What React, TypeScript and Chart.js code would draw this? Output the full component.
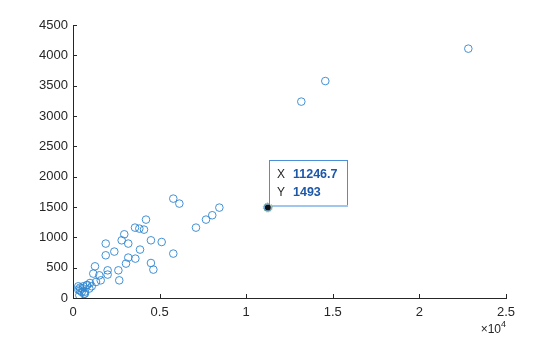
import React, { useEffect, useRef } from "react";
import { Chart, registerables } from "chart.js";

Chart.register(...registerables);

const xValues: number[] = [
  22824, 14567, 13181, 11246.7,
  5790, 6140, 8450, 8040, 7680, 7100, 4215, 3580, 3830, 4100, 2960, 2810, 3190, 4500, 5120,
  1890, 2385, 1890, 3870, 5790, 3190, 3600, 3060, 4500, 4640, 1270, 2000, 2000, 2620, 1520,
  1170, 2670, 1600, 1330,
  980, 790, 595, 405, 305, 500, 690, 365, 940, 1080, 826, 560, 404, 693, 635, 306,
];
const yValues: number[] = [
  4110, 3576, 3237, 1493,
  1638, 1556, 1490, 1364, 1292, 1160, 1292, 1160, 1144, 1127, 1050, 951, 897, 951, 923,
  897, 765, 704, 798, 732, 666, 649, 567, 577, 468, 522, 456, 386, 456, 374,
  402, 291, 291, 264,
  247, 209, 193, 171, 138, 99, 72, 44, 155, 193, 214, 160, 122, 105, 66, 193,
];
const yTicks: number[] = [0, 500, 1000, 1500, 2000, 2500, 3000, 3500, 4000, 4500];
const xTicks: number[] = [0, 5000, 10000, 15000, 20000, 25000];
const tipX = 11246.7;
const tipY = 1493;
const tipXLabel = "11246.7";
const tipYLabel = "1493";
const exponentText = "×10";
const exponentSup = "4";

const INK = "#262626";
const FONT = "'Liberation Sans', Arial, Helvetica, sans-serif";

export default function App() {
  const ref = useRef<HTMLCanvasElement | null>(null);

  useEffect(() => {
    document.body.style.margin = "0";
    const canvas = ref.current;
    if (!canvas) return;

    const overlay = {
      id: "matlabOverlay",
      afterDraw(chart: any) {
        const ctx = chart.ctx as CanvasRenderingContext2D;
        const xs = chart.scales.x;
        const ys = chart.scales.y;
        const area = chart.chartArea;
        ctx.save();
        ctx.strokeStyle = INK;
        ctx.lineWidth = 1;
        // inward ticks
        ctx.beginPath();
        yTicks.forEach((v) => {
          const py = Math.round(ys.getPixelForValue(v)) + 0.5;
          ctx.moveTo(area.left, py);
          ctx.lineTo(area.left + 4, py);
        });
        xTicks.forEach((v) => {
          const px = Math.round(xs.getPixelForValue(v)) + 0.5;
          ctx.moveTo(px, area.bottom);
          ctx.lineTo(px, area.bottom - 4);
        });
        ctx.stroke();

        // exponent label
        ctx.fillStyle = INK;
        ctx.textBaseline = "alphabetic";
        ctx.font = `9px ${FONT}`;
        const supW = ctx.measureText(exponentSup).width;
        ctx.font = `12px ${FONT}`;
        const baseW = ctx.measureText(exponentText).width;
        const rightX = area.right;
        ctx.textAlign = "left";
        ctx.fillText(exponentText, rightX - supW - baseW, 333);
        ctx.font = `9px ${FONT}`;
        ctx.fillText(exponentSup, rightX - supW, 327);

        // datatip
        const px = xs.getPixelForValue(tipX);
        const py = ys.getPixelForValue(tipY);
        const bl = Math.round(px) + 1.5;
        const bb = Math.round(py) - 1;
        const bw = 78;
        const bh = 46;
        ctx.fillStyle = "#ffffff";
        ctx.fillRect(bl, bb - bh, bw, bh);
        ctx.strokeStyle = "#4b8fd6";
        ctx.lineWidth = 1;
        ctx.strokeRect(bl, bb - bh + 0.5, bw, bh - 1);
        ctx.strokeStyle = "#9fc7ee";
        ctx.lineWidth = 2;
        ctx.beginPath();
        ctx.moveTo(bl, bb);
        ctx.lineTo(bl + bw + 0.5, bb);
        ctx.stroke();

        ctx.textAlign = "left";
        ctx.fillStyle = INK;
        ctx.font = `12px ${FONT}`;
        ctx.fillText("X", bl + 7.5, bb - 28);
        ctx.fillText("Y", bl + 7.5, bb - 10);
        ctx.fillStyle = "#1c57a8";
        ctx.font = `bold 12.5px ${FONT}`;
        ctx.fillText(tipXLabel, bl + 23.5, bb - 28);
        ctx.fillText(tipYLabel, bl + 23.5, bb - 10);

        // marker
        ctx.setLineDash([1, 1]);
        ctx.strokeStyle = "rgba(110,170,110,0.9)";
        ctx.lineWidth = 1;
        ctx.beginPath();
        ctx.arc(px, py, 4.5, 0, Math.PI * 2);
        ctx.stroke();
        ctx.setLineDash([]);
        ctx.fillStyle = "#111111";
        ctx.beginPath();
        ctx.arc(px, py, 3, 0, Math.PI * 2);
        ctx.fill();
        ctx.restore();
      },
    };

    const data = xValues.map((x, i) => ({ x, y: yValues[i] }));

    const chart = new Chart(canvas, {
      type: "scatter",
      data: {
        datasets: [
          {
            data,
            pointStyle: "circle",
            pointRadius: 3.8,
            pointHoverRadius: 3.8,
            borderColor: "#2f86cf",
            backgroundColor: "rgba(0,0,0,0)",
            borderWidth: 0.9,
          },
        ],
      },
      options: {
        responsive: false,
        animation: false,
        events: [],
        layout: { padding: { left: 0, top: 25, right: 54, bottom: 0 } },
        plugins: {
          legend: { display: false },
          tooltip: { enabled: false },
        },
        scales: {
          x: {
            type: "linear",
            min: 0,
            max: 25000,
            afterFit: (s: any) => { s.height = 39; },
            afterBuildTicks: (s: any) => { s.ticks = xTicks.map((v) => ({ value: v })); },
            grid: { display: false, drawTicks: false },
            border: { display: true, color: INK, width: 1 },
            ticks: {
              padding: 7,
              color: INK,
              font: { family: FONT, size: 13 },
              maxRotation: 0,
              callback: (v: any) => String(Number(v) / 10000),
            },
          },
          y: {
            type: "linear",
            min: 0,
            max: 4500,
            afterFit: (s: any) => { s.width = 73; },
            afterBuildTicks: (s: any) => { s.ticks = yTicks.map((v) => ({ value: v })); },
            grid: { display: false, drawTicks: false },
            border: { display: true, color: INK, width: 1 },
            ticks: {
              padding: 5,
              color: INK,
              font: { family: FONT, size: 13 },
              callback: (v: any) => String(v),
            },
          },
        },
      },
      plugins: [overlay],
    });

    return () => chart.destroy();
  }, []);

  return (
    <div style={{ position: "absolute", left: 0, top: 0, width: 560, height: 337, background: "#fff" }}>
      <canvas ref={ref} width={560} height={337} style={{ display: "block" }} />
    </div>
  );
}
